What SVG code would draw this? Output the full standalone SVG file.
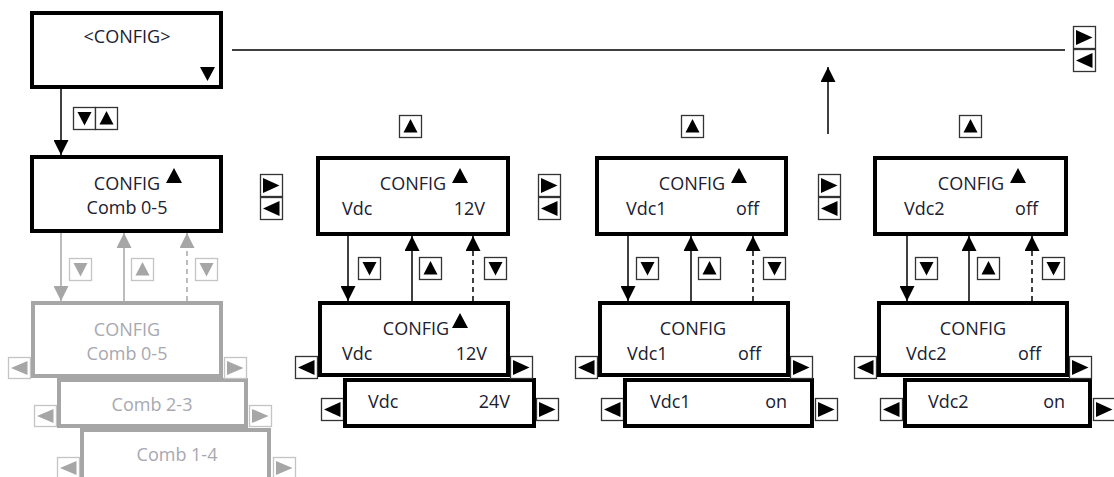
<svg xmlns="http://www.w3.org/2000/svg" xmlns:xlink="http://www.w3.org/1999/xlink" width="1114" height="477" viewBox="0 0 1114 477">
<style>
.box{fill:#fff;stroke:#000;stroke-width:4}
.gbox{fill:#fff;stroke:#a6a6a6;stroke-width:4}
.t{font-family:"Open Sans","Liberation Sans",sans-serif;font-size:18px;fill:#202030}
.gt{font-family:"Open Sans","Liberation Sans",sans-serif;font-size:18px;fill:#a8a8b0}
.c{text-anchor:middle}
.e{text-anchor:end}
.ln{fill:none;stroke:#000;stroke-width:1.5}
.gln{fill:none;stroke:#a6a6a6;stroke-width:1.5}
.dash{stroke-dasharray:5 4}
.kr{fill:#fff;stroke:#333;stroke-width:1.3}
.kt{fill:#000}
.gkr{fill:#fff;stroke:#c4c4c4;stroke-width:1.3}
.gkt{fill:#a6a6a6}
.tri{fill:#000}
</style>
<defs>
<marker id="ah" markerUnits="userSpaceOnUse" markerWidth="15" markerHeight="15" refX="15" refY="7.5" orient="auto"><path d="M0,0 L15,7.5 L0,15 z" fill="#000"/></marker>
<marker id="gah" markerUnits="userSpaceOnUse" markerWidth="15" markerHeight="15" refX="15" refY="7.5" orient="auto"><path d="M0,0 L15,7.5 L0,15 z" fill="#a6a6a6"/></marker>
<g id="kD"><rect class="kr" x="0.5" y="0.5" width="22" height="22"/><polygon class="kt" points="4.5,5 18.5,5 11.5,18.5"/></g>
<g id="kU"><rect class="kr" x="0.5" y="0.5" width="22" height="22"/><polygon class="kt" points="11.5,4 18.5,17.5 4.5,17.5"/></g>
<g id="kR"><rect class="kr" x="0.5" y="0.5" width="22" height="22"/><polygon class="kt" points="3,4 19.5,11.5 3,19"/></g>
<g id="kL"><rect class="kr" x="0.5" y="0.5" width="22" height="22"/><polygon class="kt" points="19.5,4 3,11.5 19.5,19"/></g>
<g id="gD"><rect class="gkr" x="0.5" y="0.5" width="22" height="22"/><polygon class="gkt" points="4.5,5 18.5,5 11.5,18.5"/></g>
<g id="gU"><rect class="gkr" x="0.5" y="0.5" width="22" height="22"/><polygon class="gkt" points="11.5,4 18.5,17.5 4.5,17.5"/></g>
<g id="gR"><rect class="gkr" x="0.5" y="0.5" width="22" height="21"/><polygon class="gkt" points="3,4 19.5,11 3,18"/></g>
<g id="gL"><rect class="gkr" x="0.5" y="0.5" width="22" height="21"/><polygon class="gkt" points="19.5,4 3,11 19.5,18"/></g>
</defs>

<g id="connectors">
<line class="ln" x1="232" y1="50" x2="1065" y2="50"/>
<line class="ln" x1="828" y1="134" x2="828" y2="67" marker-end="url(#ah)"/>
<line class="ln" x1="61" y1="89" x2="61" y2="155" marker-end="url(#ah)"/>
<line class="gln" x1="61" y1="233" x2="61" y2="301" marker-end="url(#gah)"/>
<line class="gln" x1="124" y1="301" x2="124" y2="233" marker-end="url(#gah)"/>
<line class="gln dash" x1="187" y1="301" x2="187" y2="233" marker-end="url(#gah)"/>
<line class="ln" x1="348" y1="236" x2="348" y2="301" marker-end="url(#ah)"/>
<line class="ln" x1="412" y1="301" x2="412" y2="236" marker-end="url(#ah)"/>
<line class="ln dash" x1="473" y1="301" x2="473" y2="236" marker-end="url(#ah)"/>
<line class="ln" x1="628" y1="236" x2="628" y2="301" marker-end="url(#ah)"/>
<line class="ln" x1="691" y1="301" x2="691" y2="236" marker-end="url(#ah)"/>
<line class="ln dash" x1="753" y1="301" x2="753" y2="236" marker-end="url(#ah)"/>
<line class="ln" x1="907" y1="236" x2="907" y2="301" marker-end="url(#ah)"/>
<line class="ln" x1="969" y1="301" x2="969" y2="236" marker-end="url(#ah)"/>
<line class="ln dash" x1="1032" y1="301" x2="1032" y2="236" marker-end="url(#ah)"/>
</g>

<g id="keys">
<use href="#kR" x="1073" y="26"/><use href="#kL" x="1073" y="49"/>
<use href="#kD" x="73" y="107"/><use href="#kU" x="95" y="107"/>
<use href="#kR" x="260" y="174"/><use href="#kL" x="260" y="197"/>
<use href="#kR" x="538" y="174"/><use href="#kL" x="538" y="197"/>
<use href="#kR" x="818" y="174"/><use href="#kL" x="818" y="197"/>
<use href="#kU" x="399" y="115"/><use href="#kU" x="681" y="115"/><use href="#kU" x="959" y="115"/>
<use href="#gD" x="69" y="258"/><use href="#gU" x="131" y="258"/><use href="#gD" x="195" y="258"/>
<use href="#kD" x="358" y="257"/><use href="#kU" x="419" y="257"/><use href="#kD" x="484" y="257"/>
<use href="#kD" x="636" y="257"/><use href="#kU" x="698" y="257"/><use href="#kD" x="763" y="257"/>
<use href="#kD" x="915" y="257"/><use href="#kU" x="977" y="257"/><use href="#kD" x="1042" y="257"/>
</g>

<g id="n-config-root">
<rect class="box" x="32" y="13" width="189" height="74"/>
<text class="t c" x="127" y="43">&lt;CONFIG&gt;</text>
<polygon class="tri" points="200,67 215,67 207.5,81"/>
</g>

<g id="n-comb05">
<rect class="box" x="32" y="157" width="189" height="74"/>
<text class="t c" x="127" y="190">CONFIG</text>
<polygon class="tri" points="174,168 182,183 166,183"/>
<text class="t c" x="127" y="214">Comb 0-5</text>
</g>

<g id="n-gray-comb14">
<use href="#gL" x="57" y="457"/><use href="#gR" x="273" y="457"/>
<rect class="gbox" x="82" y="430" width="187" height="60"/>
<text class="gt c" x="177" y="461">Comb 1-4</text>
</g>
<g id="n-gray-comb23">
<use href="#gL" x="34" y="405"/><use href="#gR" x="249" y="405"/>
<rect class="gbox" x="59" y="380" width="187" height="46"/>
<text class="gt c" x="152" y="411">Comb 2-3</text>
</g>
<g id="n-gray-comb05">
<use href="#gL" x="8" y="357"/><use href="#gR" x="224" y="357"/>
<rect class="gbox" x="33" y="303" width="188" height="73"/>
<text class="gt c" x="127" y="336">CONFIG</text>
<text class="gt c" x="127" y="360">Comb 0-5</text>
</g>

<g id="n-vdc-top">
<rect class="box" x="318" y="158" width="190" height="76"/>
<text class="t c" x="413" y="190">CONFIG</text>
<polygon class="tri" points="460,168 468,183 452,183"/>
<text class="t" x="342" y="215">Vdc</text>
<text class="t e" x="485" y="215">12V</text>
</g>
<g id="n-vdc-24">
<use href="#kL" x="321" y="398"/><use href="#kR" x="536" y="398"/>
<rect class="box" x="345" y="380" width="189" height="46"/>
<text class="t" x="368" y="408">Vdc</text>
<text class="t e" x="510" y="408">24V</text>
</g>
<g id="n-vdc-12">
<use href="#kL" x="295" y="356"/><use href="#kR" x="510" y="356"/>
<rect class="box" x="320" y="303" width="188" height="72"/>
<text class="t c" x="416" y="335">CONFIG</text>
<polygon class="tri" points="460,313 468,328 452,328"/>
<text class="t" x="342" y="360">Vdc</text>
<text class="t e" x="487" y="360">12V</text>
</g>

<g id="n-vdc1-top">
<rect class="box" x="597" y="158" width="189" height="76"/>
<text class="t c" x="692" y="190">CONFIG</text>
<polygon class="tri" points="739,168 747,183 731,183"/>
<text class="t" x="626" y="215">Vdc1</text>
<text class="t e" x="759" y="215">off</text>
</g>
<g id="n-vdc1-on">
<use href="#kL" x="601" y="398"/><use href="#kR" x="815" y="398"/>
<rect class="box" x="625" y="380" width="187" height="46"/>
<text class="t" x="650" y="408">Vdc1</text>
<text class="t e" x="787" y="408">on</text>
</g>
<g id="n-vdc1-off">
<use href="#kL" x="575" y="356"/><use href="#kR" x="790" y="356"/>
<rect class="box" x="600" y="303" width="188" height="72"/>
<text class="t c" x="693" y="335">CONFIG</text>
<text class="t" x="627" y="360">Vdc1</text>
<text class="t e" x="761" y="360">off</text>
</g>

<g id="n-vdc2-top">
<rect class="box" x="875" y="158" width="191" height="76"/>
<text class="t c" x="971" y="190">CONFIG</text>
<polygon class="tri" points="1018,168 1026,183 1010,183"/>
<text class="t" x="904" y="215">Vdc2</text>
<text class="t e" x="1038" y="215">off</text>
</g>
<g id="n-vdc2-on">
<use href="#kL" x="880" y="398"/><use href="#kR" x="1093" y="398"/>
<rect class="box" x="905" y="380" width="185" height="46"/>
<text class="t" x="928" y="408">Vdc2</text>
<text class="t e" x="1065" y="408">on</text>
</g>
<g id="n-vdc2-off">
<use href="#kL" x="854" y="356"/><use href="#kR" x="1069" y="356"/>
<rect class="box" x="879" y="303" width="188" height="72"/>
<text class="t c" x="973" y="335">CONFIG</text>
<text class="t" x="906" y="360">Vdc2</text>
<text class="t e" x="1041" y="360">off</text>
</g>
</svg>
